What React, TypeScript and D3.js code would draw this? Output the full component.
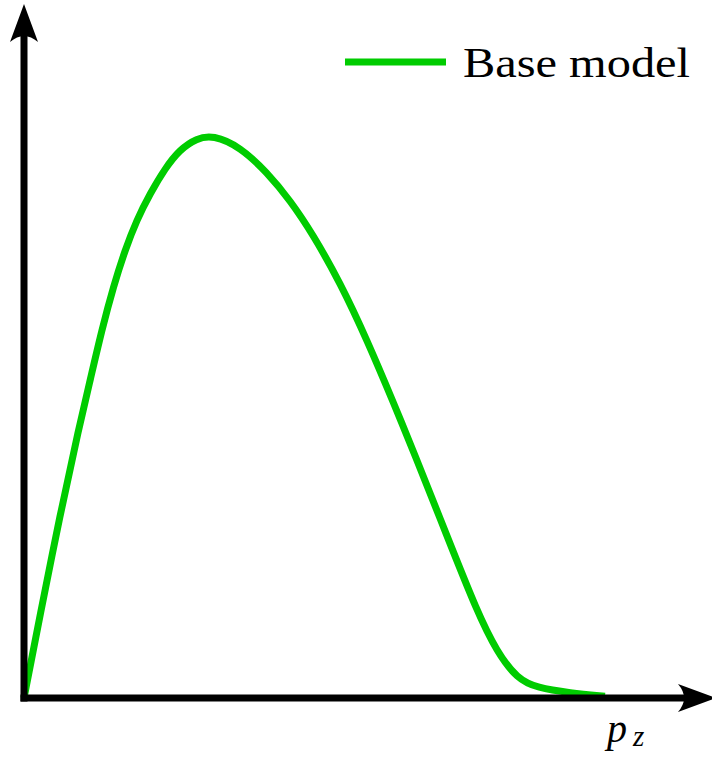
import React from "react";
import * as d3 from "d3";

// Base model density over p_z (normalised units)
const pz = [0, 0.028, 0.062, 0.095, 0.114, 0.134, 0.154, 0.174, 0.194, 0.217, 0.243, 0.268, 0.297, 0.325, 0.372, 0.418, 0.458, 0.497, 0.544, 0.59, 0.639, 0.67, 0.728, 0.78, 0.814, 0.849, 0.883, 0.94, 1.0];
const density = [0, 0.149, 0.325, 0.482, 0.565, 0.654, 0.731, 0.796, 0.849, 0.896, 0.941, 0.974, 0.994, 1.0, 0.979, 0.934, 0.884, 0.824, 0.738, 0.637, 0.517, 0.439, 0.288, 0.153, 0.082, 0.034, 0.018, 0.009, 0.003];

const seriesName = "Base model";
const xLabel = "p";
const xLabelSub = "z";

const W = 712;
const H = 758;
const GREEN = "#00cc00";

export default function App() {
  const x = d3.scaleLinear().domain([0, 1]).range([24, 605]);
  const y = d3.scaleLinear().domain([0, 1]).range([698, 135]);
  const pts: [number, number][] = pz.map((v, i) => [v, density[i]]);
  const line = d3
    .line<[number, number]>()
    .x((d) => x(d[0]))
    .y((d) => y(d[1]))
    .curve(d3.curveBasis);

  const ox = x(0);
  const oy = y(0);
  const arrowLen = 38;
  const arrowHalf = 14;
  const notch = 8;
  const yTip = 4;
  const xTip = 716;

  return (
    <svg
      width={W}
      height={H}
      style={{ position: "absolute", left: 0, top: 0, background: "#fff" }}
      fontFamily="'Liberation Serif', 'DejaVu Serif', serif"
    >
      <path d={line(pts) ?? ""} fill="none" stroke={GREEN} strokeWidth={7} strokeLinejoin="round" />

      {/* axes */}
      <line x1={ox} y1={oy + 3.5} x2={ox} y2={yTip + arrowLen - 6} stroke="#000" strokeWidth={7} />
      <line x1={ox - 3.5} y1={oy} x2={xTip - arrowLen + 6} y2={oy} stroke="#000" strokeWidth={7} />
      <path
        d={`M${ox},${yTip} L${ox + arrowHalf},${yTip + arrowLen} Q${ox},${yTip + arrowLen - notch - 4} ${ox - arrowHalf},${yTip + arrowLen} Z`}
        fill="#000"
      />
      <path
        d={`M${xTip},${oy} L${xTip - arrowLen},${oy - arrowHalf} Q${xTip - arrowLen + notch + 4},${oy} ${xTip - arrowLen},${oy + arrowHalf} Z`}
        fill="#000"
      />

      {/* axis label */}
      <text x={607} y={742} fontSize={40} fontStyle="italic">
        {xLabel}
      </text>
      <text x={633} y={746} fontSize={29} fontStyle="italic">
        {xLabelSub}
      </text>

      {/* legend */}
      <line x1={345} y1={62} x2={446} y2={62} stroke={GREEN} strokeWidth={7} />
      <text x={463} y={77} fontSize={43} textLength={227} lengthAdjust="spacingAndGlyphs">
        {seriesName}
      </text>
    </svg>
  );
}
